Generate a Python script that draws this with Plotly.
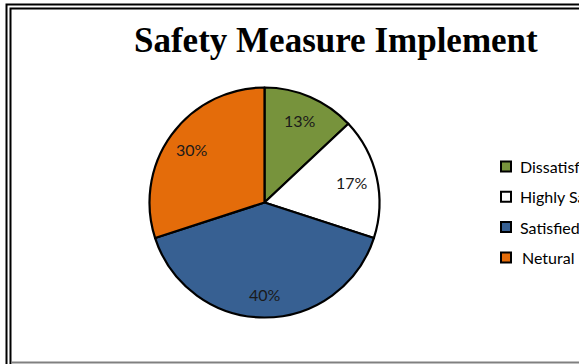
import math
import plotly.graph_objects as go

labels = ["Dissatisfied", "Highly Satisfied", "Satisfied", "Netural"]
values = [13, 17, 40, 30]
colors = ["#77933C", "#FFFFFF", "#376092", "#E46C0A"]
title_text = "Safety Measure Implement"

W, H = 579, 364
cx, cy, r = 264.5, 202.5, 115

fig = go.Figure(go.Pie(
    labels=labels, values=values, sort=False, direction="clockwise", rotation=0,
    marker=dict(colors=colors, line=dict(color="#000000", width=2.2)),
    textposition="none",
    domain=dict(x=[(cx - r) / W, (cx + r) / W], y=[(H - cy - r) / H, (H - cy + r) / H]),
    showlegend=False, hoverinfo="skip",
))

shapes = [
    dict(type="rect", xref="paper", yref="paper", x0=6.5 / W, x1=1.2, y0=-0.1, y1=1 - 4.5 / H,
         line=dict(color="#000", width=2)),
    dict(type="rect", xref="paper", yref="paper", x0=10.5 / W, x1=1.2, y0=-0.1, y1=1 - 8.5 / H,
         line=dict(color="#000", width=2)),
    dict(type="line", xref="paper", yref="paper", x0=11.5 / W, x1=1.0, y0=1.5 / H, y1=1.5 / H,
         line=dict(color="#808080", width=2)),
]
annotations = [dict(text="<b>" + title_text + "</b>", x=336 / W, y=1 - 40 / H, xref="paper", yref="paper",
                    showarrow=False, font=dict(family="Liberation Serif", size=35, color="#000"),
                    xanchor="center", yanchor="middle")]

# percentage labels placed along each slice's mid angle (clockwise from 12 o'clock)
total = sum(values)
cum = 0
for v in values:
    mid = (cum + v / 2) / total * 2 * math.pi
    cum += v
    frac = 0.78 if v / total < 0.35 else 0.80
    px = cx + frac * r * math.sin(mid)
    py = cy - frac * r * math.cos(mid)
    annotations.append(dict(text=f"{round(v / total * 100)}%", x=px / W, y=1 - py / H,
                            xref="paper", yref="paper", showarrow=False,
                            xanchor="center", yanchor="middle",
                            font=dict(family="Lato", size=16, color="#1a1a1a")))

for i, (lab, col) in enumerate(zip(labels, colors)):
    yc = 166.5 + i * 30.3
    shapes.append(dict(type="rect", xref="paper", yref="paper",
                       x0=501 / W, x1=511 / W, y0=1 - (yc + 5) / H, y1=1 - (yc - 5) / H,
                       fillcolor=col, line=dict(color="#000", width=2)))
    annotations.append(dict(text=lab, x=(518 + (2 if i == 3 else 0)) / W, y=1 - yc / H, xref="paper", yref="paper",
                            showarrow=False, xanchor="left", yanchor="middle",
                            font=dict(family="Lato", size=16, color="#000")))

fig.update_layout(
    width=W, height=H, margin=dict(l=0, r=0, t=0, b=0, autoexpand=False),
    paper_bgcolor="#FFFFFF", plot_bgcolor="#FFFFFF",
    shapes=shapes, annotations=annotations,
)
fig.write_html("out.html", config={"displayModeBar": False})
